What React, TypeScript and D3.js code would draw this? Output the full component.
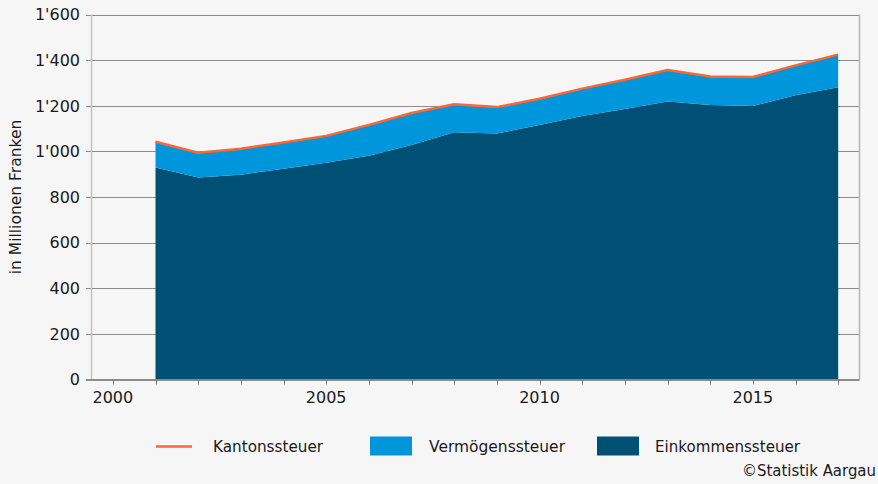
import React from "react";
import * as d3 from "d3";

const years = [2001, 2002, 2003, 2004, 2005, 2006, 2007, 2008, 2009, 2010, 2011, 2012, 2013, 2014, 2015, 2016, 2017];
const einkommen = [929, 886, 898, 924, 950, 981, 1028, 1084, 1078, 1116, 1155, 1186, 1219, 1203, 1199, 1246, 1281];
const vermoegen = [113, 108, 114, 115, 118, 135, 140, 123, 116, 115, 120, 128, 138, 125, 127, 131, 143];
const kanton = [1042, 994, 1012, 1039, 1068, 1116, 1168, 1207, 1194, 1231, 1275, 1314, 1357, 1328, 1326, 1377, 1424];
const yTicks = [0, 200, 400, 600, 800, 1000, 1200, 1400, 1600];
const xLabels = [2000, 2005, 2010, 2015];
const legendItems = ["Kantonssteuer", "Vermögenssteuer", "Einkommenssteuer"];

const W = 878, H = 484;
const left = 91.5, right = 859.5, top = 14.5, bottom = 379.5;
const C_DARK = "#004f75";
const C_LIGHT = "#0096dc";
const C_ORANGE = "#ff6633";

const fmt = (v: number) => {
  if (v >= 1000) return `${Math.floor(v / 1000)}'${String(v % 1000).padStart(3, "0")}`;
  return String(v);
};

export default function App() {
  const x = d3.scaleLinear().domain([1999.5, 2017.5]).range([left, right]);
  const y = d3.scaleLinear().domain([0, 1600]).range([bottom, top]);
  const rows = years.map((yr, i) => ({ yr, e: einkommen[i], v: vermoegen[i], k: kanton[i] }));
  const areaE = d3.area<any>().x(d => x(d.yr)).y0(y(0)).y1(d => y(d.e))(rows) || "";
  const areaV = d3.area<any>().x(d => x(d.yr)).y0(d => y(d.e)).y1(d => y(d.e + d.v))(rows) || "";
  const lineK = d3.line<any>().x(d => x(d.yr)).y(d => y(d.k))(rows) || "";
  const tickYears = d3.range(2000, 2018);
  const font = "'DejaVu Sans', Verdana, sans-serif";
  const txt = "#1a1a1a";

  return (
    <svg width={W} height={H} style={{ position: "absolute", left: 0, top: 0, display: "block" }}>
      <rect x={0} y={0} width={W} height={H} fill="#f6f6f6" />
      {yTicks.map(t => (
        <line key={t} x1={86} x2={right} y1={Math.round(y(t)) + 0.5} y2={Math.round(y(t)) + 0.5} stroke="#8c8c8c" strokeWidth={1} />
      ))}
      <line x1={left} x2={left} y1={top} y2={bottom} stroke="#c4c4c4" strokeWidth={1.5} />
      <line x1={right} x2={right} y1={top} y2={bottom} stroke="#b4b4b4" strokeWidth={1.5} />
      <path d={areaE} fill={C_DARK} />
      <path d={areaV} fill={C_LIGHT} />
      <path d={lineK} fill="none" stroke={C_ORANGE} strokeWidth={2.5} strokeLinejoin="round" />
      <line x1={86} x2={right} y1={bottom} y2={bottom} stroke="#8c8c8c" strokeWidth={1} />
      {tickYears.map(t => (
        <line key={t} x1={Math.round(x(t)) + 0.5} x2={Math.round(x(t)) + 0.5} y1={bottom} y2={bottom + 5} stroke="#777" strokeWidth={1} />
      ))}
      {yTicks.map(t => (
        <text key={t} x={80} y={y(t)} dy="0.36em" textAnchor="end" fontFamily={font} fontSize={16} fill={txt}>{fmt(t)}</text>
      ))}
      {xLabels.map(t => (
        <text key={t} x={x(t)} y={403} textAnchor="middle" fontFamily={font} fontSize={16} fill={txt}>{t}</text>
      ))}
      <text transform="translate(21,197) rotate(-90)" textAnchor="middle" fontFamily={font} fontSize={15.5} fill={txt}>in Millionen Franken</text>
      <line x1={156} x2={192} y1={446.5} y2={446.5} stroke={C_ORANGE} strokeWidth={2.5} />
      <text x={213} y={452} fontFamily={font} fontSize={15} fill={txt} textLength={110} lengthAdjust="spacingAndGlyphs">{legendItems[0]}</text>
      <rect x={370} y={436.5} width={42} height={19} fill={C_LIGHT} />
      <text x={429} y={452} fontFamily={font} fontSize={15} fill={txt} textLength={136} lengthAdjust="spacingAndGlyphs">{legendItems[1]}</text>
      <rect x={597} y={436.5} width={42} height={19} fill={C_DARK} />
      <text x={655} y={452} fontFamily={font} fontSize={15} fill={txt} textLength={145} lengthAdjust="spacingAndGlyphs">{legendItems[2]}</text>
      <text x={876} y={476} textAnchor="end" fontFamily={font} fontSize={15} fill={txt} textLength={134} lengthAdjust="spacingAndGlyphs">©Statistik Aargau</text>
    </svg>
  );
}
